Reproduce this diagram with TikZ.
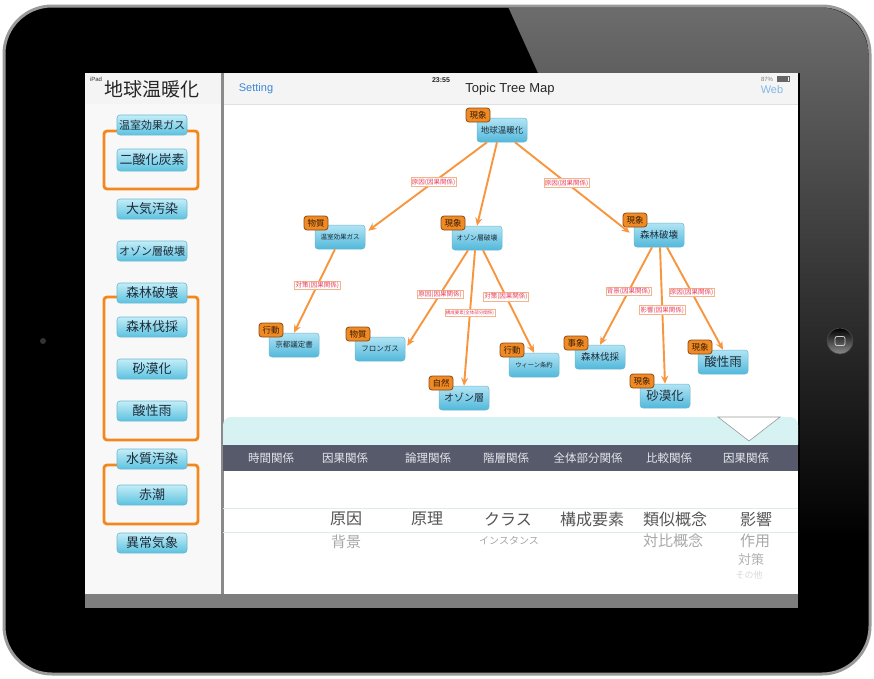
\documentclass[tikz,border=0pt]{standalone}
\usepackage{fontspec}
\setmainfont{Liberation Sans}
\newfontfamily\jp{Noto Sans CJK JP}
\usetikzlibrary{arrows.meta,calc}
\newcommand\myfs[1]{\fontsize{#1}{#1}\selectfont}
\definecolor{rim}{HTML}{9A9A9A}
\definecolor{orng}{HTML}{F2871C}
\definecolor{edgeor}{HTML}{F7963F}
\definecolor{tagor}{HTML}{F08A24}
\definecolor{tagbd}{HTML}{8C4A12}
\definecolor{btop}{HTML}{C4EDF8}
\definecolor{bbot}{HTML}{5CC2E0}
\definecolor{bdraw}{HTML}{6CB9D2}
\definecolor{ntop}{HTML}{B2E4F4}
\definecolor{nbot}{HTML}{52B8DB}
\definecolor{ink}{HTML}{1D2D3A}
\definecolor{tagink}{HTML}{3A1E05}
\definecolor{lblred}{HTML}{E8405E}
\definecolor{lblbd}{HTML}{F4B48A}
\definecolor{band}{HTML}{D6F2F2}
\definecolor{slate}{HTML}{565A6A}
\definecolor{bartxt}{HTML}{E4E6EE}
\definecolor{setblue}{HTML}{3A86D6}
\definecolor{webblue}{HTML}{86B6EA}
\definecolor{sidebg}{HTML}{F8F8F8}
\definecolor{headbg}{HTML}{F4F4F4}
\definecolor{sepgray}{HTML}{8A8A8A}
\definecolor{bargray}{HTML}{7E7E7E}
\definecolor{reflgray}{HTML}{6E6E6E}
\definecolor{rowline}{HTML}{DCEBEE}
\definecolor{wheeltxt}{HTML}{555555}
\definecolor{wheelsub}{HTML}{A8A8A8}
\tikzset{
  sbtn/.style={rounded corners=3pt, top color=btop, bottom color=bbot, draw=bdraw, line width=0.6pt,
    minimum width=70pt, minimum height=20pt, inner sep=0pt, text=ink, font=\jp\myfs{13}},
  tnode/.style={rounded corners=3pt, top color=ntop, bottom color=nbot, draw=bdraw, line width=0.5pt,
    minimum width=50pt, minimum height=24pt, inner sep=0pt, text=ink},
  tagbox/.style={rounded corners=3pt, fill=tagor, draw=tagbd, line width=0.8pt, minimum width=24pt,
    minimum height=14pt, inner sep=0pt, text=tagink, font=\jp\myfs{8.5}},
  elab/.style={fill=white, draw=lblbd, line width=0.5pt, text=lblred, inner sep=1pt, font=\jp\myfs{6.5}},
  link/.style={draw=edgeor, line width=1.9pt, -{Stealth[length=8pt,width=7pt]}},
  obox/.style={draw=orng, line width=2.8pt, rounded corners=3pt},
  bartext/.style={text=bartxt, font=\jp\myfs{11.5}},
  wheel/.style={text=wheeltxt, font=\jp\myfs{16}},
  wsub/.style={text=wheelsub, font=\jp\myfs{15}}
}
\begin{document}
\begin{tikzpicture}[x=1pt,y=-1pt]
\useasboundingbox (0,0) rectangle (874,678);
\fill[white] (0,0) rectangle (874,678);
% iPad body
\fill[black, rounded corners=48pt] (4,6) rectangle (870,674);
\begin{scope}
  \clip[rounded corners=48pt] (5.5,7.5) rectangle (868.5,672.5);
  \shade[top color=reflgray, bottom color=black] (505,0) -- (874,0) -- (874,540) -- (800,540) -- (800,73) -- (538,73) -- cycle;
\end{scope}
\draw[rim, line width=3pt, rounded corners=48pt] (4,6) rectangle (870,674);
% camera and home button
\fill[black!80] (43,341) circle (3);
\shade[top color=black, bottom color=black!45, draw=black!70, line width=0.6pt] (840,341) circle (13);
\draw[draw=black!20, line width=0.8pt, rounded corners=2pt] (835,336.5) rectangle (845,345.5);
% screen
\fill[sidebg] (85,73) rectangle (221,594);
\fill[headbg] (85,73) rectangle (221,104);
\fill[white] (223,104) rectangle (798,594);
\fill[headbg] (223,73) rectangle (798,104);
\draw[black!12, line width=0.5pt] (223,104) -- (798,104);
\fill[sepgray] (221,73) rectangle (223.5,594);
\fill[bargray] (85,594) rectangle (798,608);
% header
\node[font=\myfs{6}, text=black!80] (ipad) at (96,79) {iPad};
\node[font=\jp\myfs{19}, text=black!85] (title) at (152,89) {地球温暖化};
\node[font=\myfs{11}, text=setblue] (setting) at (256,89) {Setting};
\node[font=\bfseries\myfs{7}, text=black!85] (clock) at (441,80) {23:55};
\node[font=\myfs{13}, text=black!85] (apptitle) at (510,89) {Topic Tree Map};
\node[font=\myfs{6}, text=black!50] (batt) at (767,79) {87\%};
\draw[black!60, line width=0.5pt] (777,76.5) rectangle (789,81.5);
\fill[black!60] (777,76.5) rectangle (787.5,81.5);
\node[font=\myfs{11}, text=webblue] (web) at (772,90) {Web};
% sidebar orange boxes
\draw[obox] (104,131) rectangle (198,189);
\draw[obox] (104,297) rectangle (198,440);
\draw[obox] (104,465) rectangle (198,524);
% sidebar buttons
\node[sbtn, font=\jp\myfs{11}] (s1) at (152,125) {温室効果ガス};
\node[sbtn, minimum height=22pt] (s2) at (152,160) {二酸化炭素};
\node[sbtn] (s3) at (152,209) {大気汚染};
\node[sbtn, font=\jp\myfs{11}] (s4) at (152,251) {オゾン層破壊};
\node[sbtn] (s5) at (152,293) {森林破壊};
\node[sbtn] (s6) at (152,327) {森林伐採};
\node[sbtn] (s7) at (152,369) {砂漠化};
\node[sbtn] (s8) at (152,411) {酸性雨};
\node[sbtn] (s9) at (152,459) {水質汚染};
\node[sbtn] (s10) at (152,495) {赤潮};
\node[sbtn] (s11) at (152,543) {異常気象};
% tree nodes
\node[tnode, font=\jp\myfs{8.5}] (gw) at (502,130) {地球温暖化};
\node[tnode, font=\jp\myfs{6.5}] (gh) at (340,237) {温室効果ガス};
\node[tnode, font=\jp\myfs{6.8}] (oz) at (477,238) {オゾン層破壊};
\node[tnode, font=\jp\myfs{9.5}] (sr) at (659,235) {森林破壊};
\node[tnode, font=\jp\myfs{7.5}] (ky) at (294,345) {京都議定書};
\node[tnode, font=\jp\myfs{7.5}] (fr) at (380,349) {フロンガス};
\node[tnode, font=\jp\myfs{6.3}] (wn) at (534,365) {ウィーン条約};
\node[tnode, font=\jp\myfs{10}] (ol) at (464,398) {オゾン層};
\node[tnode, font=\jp\myfs{9.5}] (sb) at (600,357) {森林伐採};
\node[tnode, font=\jp\myfs{12.5}] (sk) at (665,396) {砂漠化};
\node[tnode, font=\jp\myfs{12.5}] (sa) at (723,362) {酸性雨};
% tags
\node[tagbox] (gwt) at (478,115) {現象};
\node[tagbox] (ght) at (316,223) {物質};
\node[tagbox] (ozt) at (453,223) {現象};
\node[tagbox] (srt) at (635,220) {現象};
\node[tagbox] (kyt) at (271,330) {行動};
\node[tagbox] (frt) at (358,334) {物質};
\node[tagbox] (wnt) at (512,350) {行動};
\node[tagbox] (olt) at (441,383) {自然};
\node[tagbox] (sbt) at (576,343) {事象};
\node[tagbox] (skt) at (642,381) {現象};
\node[tagbox] (sat) at (700,347) {現象};
% connectors
\draw[link] ($(gw.south)+(-15,0)$) -- node[elab, pos=0.45] (l1) {原因(因果関係)} ($(gh.north east)+(3,6)$);
\draw[link] ($(gw.south)+(-5,0)$) -- (oz.north);
\draw[link] ($(gw.south)+(13,0)$) -- node[elab, pos=0.45] (l3) {原因(因果関係)} ($(sr.north west)+(-4,10)$);
\draw[link] ($(gh.south)+(-5,0)$) -- node[elab, pos=0.43] (l4) {対策(因果関係)} (ky.north);
\draw[link] ($(oz.south)+(-9,0)$) -- node[elab, pos=0.46] (l5) {原因(因果関係)} ($(fr.north east)+(2,9)$);
\draw[link] ($(oz.south)+(-2,0)$) -- node[elab, pos=0.46, font=\jp\myfs{4.5}] (l6) {構成要素(全体部分関係)} (ol.north);
\draw[link] ($(oz.south)+(6,0)$) -- node[elab, pos=0.45] (l7) {対策(因果関係)} (wn.north);
\draw[link] ($(sr.south)+(-7,0)$) -- node[elab, pos=0.45] (l8) {背景(因果関係)} (sb.north);
\draw[link] ($(sr.south)+(1,0)$) -- node[elab, pos=0.46] (l9) {影響(因果関係)} (sk.north);
\draw[link] ($(sr.south)+(8,0)$) -- node[elab, pos=0.44] (l10) {原因(因果関係)} (sa.north);
% bottom panel
\fill[band, rounded corners=8pt] (223,417) rectangle (798,452);
\fill[slate] (223,445) rectangle (798,471);
\filldraw[fill=white, draw=black!40, line width=0.6pt] (718,417) -- (780,417) -- (749,441) -- cycle;
\node[bartext] (b1) at (271,458) {時間関係};
\node[bartext] (b2) at (345,458) {因果関係};
\node[bartext] (b3) at (428,458) {論理関係};
\node[bartext] (b4) at (506,458) {階層関係};
\node[bartext] (b5) at (588,458) {全体部分関係};
\node[bartext] (b6) at (669,458) {比較関係};
\node[bartext] (b7) at (746,458) {因果関係};
\draw[rowline, line width=0.8pt] (223,508) -- (798,508);
\draw[rowline, line width=0.8pt] (223,532) -- (798,532);
\node[wheel] (w1) at (346,519) {原因};
\node[wheel] (w2) at (427,519) {原理};
\node[wheel] (w3) at (508,519) {クラス};
\node[wheel] (w4) at (592,519) {構成要素};
\node[wheel] (w5) at (675,519) {類似概念};
\node[wheel] (w6) at (756,519) {影響};
\node[wsub] (u1) at (346,542) {背景};
\node[wsub, font=\jp\myfs{10}] (u3) at (509,541) {インスタンス};
\node[wsub] (u5) at (673,541) {対比概念};
\node[wsub] (u6) at (755,541) {作用};
\node[wsub, text=black!30, font=\jp\myfs{13}] (u7) at (751,560) {対策};
\node[wsub, text=black!15, font=\jp\myfs{9}] (u8) at (749,575) {その他};
\end{tikzpicture}
\end{document}
